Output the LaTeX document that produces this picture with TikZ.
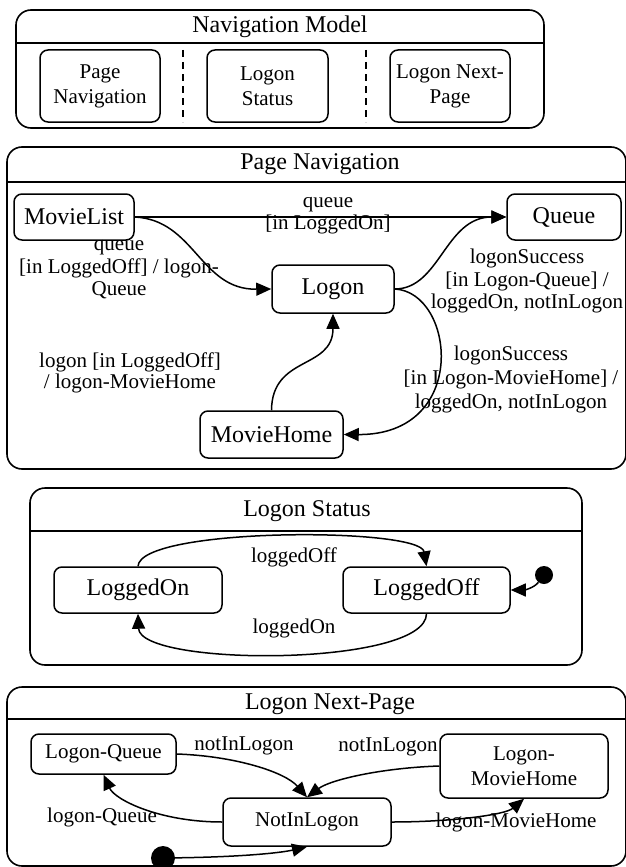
\documentclass[tikz,border=0pt]{standalone}
\usepackage{fontspec}
\setmainfont{Liberation Serif}
\usetikzlibrary{arrows.meta}
\begin{document}
\begin{tikzpicture}[x=1pt,y=-1pt,
  frame/.style={draw,line width=1.6pt,rounded corners=15pt},
  sepline/.style={line width=1.6pt},
  st/.style={draw,line width=1.5pt,rounded corners=8pt,inner sep=0pt,align=center},
  big/.style={font=\fontsize{24}{27}\selectfont},
  med/.style={font=\fontsize{21}{25}\selectfont},
  lbl/.style={inner sep=0pt,align=center,font=\fontsize{21}{22.5}\selectfont},
  tr/.style={-{Triangle[length=15pt,width=13pt]},line width=1.5pt},
  dot/.style={circle,fill=black,inner sep=0pt},
  dsh/.style={line width=1.3pt,dash pattern=on 7pt off 5pt}
]
\useasboundingbox (0,0) rectangle (626,867);

% ---------- Navigation Model ----------
\draw[frame] (16,10) rectangle (544,128);
\draw[sepline] (16,43) -- (544,43);
\node[big] (t1) at (280,27) {Navigation Model};
\node[st,med,minimum width=120pt,minimum height=72pt] (pn) at (100,86) {Page\\Navigation};
\node[st,med,minimum width=121pt,minimum height=72pt] (ls) at (267.5,86) {Logon\\Status};
\node[st,med,minimum width=120pt,minimum height=72pt] (lnp) at (450,86) {Logon Next-\\Page};
\draw[dsh] (183,50) -- (183,122);
\draw[dsh] (366,50) -- (366,122);

% ---------- Page Navigation ----------
\draw[frame] (7,147) rectangle (626,469);
\draw[sepline] (7,182) -- (626,182);
\node[big] (t2) at (320,164) {Page Navigation};
\node[st,big,minimum width=120pt,minimum height=46pt] (ml) at (74,217) {MovieList};
\node[st,big,minimum width=114pt,minimum height=46pt] (qu) at (564,217) {Queue};
\node[st,big,minimum width=122pt,minimum height=48pt] (lg) at (333,289) {Logon};
\node[st,big,minimum width=143pt,minimum height=47pt] (mh) at (271.5,434.5) {MovieHome};

\draw[tr] (ml.east) -- (qu.west);
\draw[tr] (ml.east) .. controls (195,220) and (200,290) .. (lg.west);
\draw[tr] (lg.east) .. controls (440,289) and (445,217) .. (qu.west);
\draw[tr] (lg.east) .. controls (455,292) and (470,435) .. (mh.east);
\draw[tr] (mh.north) .. controls (272,355) and (333,370) .. (lg.south);

\node[lbl] (l1) at (328,215.5) {queue\\{}[in LoggedOn]};
\node[lbl] (l2) at (119,270) {queue\\{}[in LoggedOff] / logon-\\Queue};
\node[lbl] (l3) at (527,281) {logonSuccess\\{}[in Logon-Queue] /\\loggedOn, notInLogon};
\node[lbl,font=\fontsize{21}{24}\selectfont] (l4) at (511,379) {logonSuccess\\{}[in Logon-MovieHome] /\\loggedOn, notInLogon};
\node[lbl,font=\fontsize{21}{21}\selectfont] (l5) at (130,373) {logon [in LoggedOff]\\/ logon-MovieHome};

% ---------- Logon Status ----------
\draw[frame] (30,488) rectangle (582,665);
\draw[sepline] (30,531) -- (582,531);
\node[big] (t3) at (307,511) {Logon Status};
\node[st,big,minimum width=168pt,minimum height=46pt] (lon) at (138,590) {LoggedOn};
\node[st,big,minimum width=167pt,minimum height=46pt] (loff) at (426.5,590) {LoggedOff};
\node[dot,minimum size=18pt] (i1) at (544,575) {};
\draw[tr] (i1) .. controls (534,588) and (524,590) .. (loff.east);
\draw[tr] (lon.north) .. controls (140,527) and (420,527) .. (loff.north);
\draw[tr] (loff.south) .. controls (426,667) and (140,667) .. (lon.south);
\node[lbl] (l6) at (294,557) {loggedOff};
\node[lbl] (l7) at (294,628) {loggedOn};

% ---------- Logon Next-Page ----------
\draw[frame] (7,687) rectangle (626,866);
\draw[sepline] (7,719) -- (626,719);
\node[big] (t4) at (330,704) {Logon Next-Page};
\node[st,med,minimum width=145pt,minimum height=40pt] (lq) at (103.5,754) {Logon-Queue};
\node[st,med,minimum width=168pt,minimum height=64pt] (lmh) at (524,766) {Logon-\\MovieHome};
\node[st,med,minimum width=168pt,minimum height=48pt] (nil) at (307,822) {NotInLogon};
\node[dot,minimum size=24pt] (i2) at (163,858) {};

\draw[tr] (lq.east) .. controls (235,756) and (285,772) .. (nil.north);
\draw[tr] (lmh.west) .. controls (380,768) and (330,780) .. (nil.north);
\draw[tr] (nil.west) .. controls (160,822) and (115,800) .. (lq.south);
\draw[tr] (nil.east) .. controls (450,822) and (505,815) .. (lmh.south);
\draw[tr] (i2) .. controls (240,857) and (280,853) .. (nil.south);

\node[lbl] (l8) at (244,746) {notInLogon};
\node[lbl] (l9) at (388,747) {notInLogon};
\node[lbl] (l10) at (102,817) {logon-Queue};
\node[lbl] (l11) at (516,822) {logon-MovieHome};
\end{tikzpicture}
\end{document}
